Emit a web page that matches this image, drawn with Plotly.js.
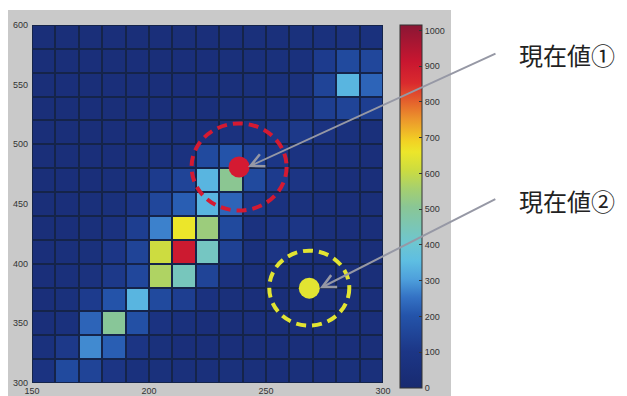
<!DOCTYPE html>
<html>
<head>
<meta charset="utf-8">
<script src="https://cdn.plot.ly/plotly-3.0.1.min.js"></script>
<style>html,body{margin:0;padding:0;background:#fff;}#chart{width:627px;height:396px;}</style>
</head>
<body>
<div id="chart"></div>
<script>
// Cell centres (x: 150..300 step 10, y: 300..600 step 20)
const xCenters = [155,165,175,185,195,205,215,225,235,245,255,265,275,285,295];
const yCenters = [310,330,350,370,390,410,430,450,470,490,510,530,550,570,590];
// Values, rows from bottom (y=300-320) to top (y=580-600)
const zRows = [
  [80,170,150,90,60,55,50,50,55,50,45,50,45,55,50],
  [60,110,280,220,90,55,45,40,45,40,40,45,40,45,40],
  [45,60,230,500,190,80,60,45,40,45,40,45,40,40,45],
  [45,55,120,200,340,170,130,70,50,45,40,45,45,40,45],
  [45,50,65,110,160,570,440,150,70,50,45,45,40,45,40],
  [45,50,55,100,150,610,900,430,140,60,90,60,45,45,40],
  [40,45,50,70,130,270,660,540,170,70,90,100,50,45,45],
  [40,45,50,55,90,160,220,340,230,110,70,65,50,45,40],
  [40,45,45,50,60,120,150,340,510,170,120,90,55,45,45],
  [40,40,45,45,50,60,70,170,200,140,100,80,60,50,45],
  [40,40,40,45,45,50,55,60,70,80,100,110,80,60,50],
  [40,40,45,40,45,45,50,50,55,60,60,70,130,150,130],
  [40,45,40,45,40,45,45,50,50,55,55,65,150,340,230],
  [40,40,45,40,45,40,45,45,50,50,55,60,120,170,160],
  [40,40,40,45,40,45,40,45,45,50,50,55,60,65,60]
];
const xTicks = [150,200,250,300];
const yTicks = [300,350,400,450,500,550,600];
const cTicks = [0,100,200,300,400,500,600,700,800,900,1000];
// Current values (現在値)
const pointNames = ['現在値①','現在値②'];
const pointX = [238.5, 268.5];
const pointY = [481, 379.5];
const circleRx = [20.3, 17.1];
const circleRy = [36.5, 31.4];
const pointColors = ['rgb(212,26,50)','rgb(226,228,50)'];

const colorscale = [
  [0.00,'rgb(24,42,112)'],
  [0.10,'rgb(28,54,134)'],
  [0.20,'rgb(36,84,170)'],
  [0.25,'rgb(52,114,196)'],
  [0.30,'rgb(78,160,220)'],
  [0.35,'rgb(94,190,226)'],
  [0.40,'rgb(110,198,208)'],
  [0.50,'rgb(138,198,148)'],
  [0.55,'rgb(166,208,110)'],
  [0.60,'rgb(204,220,64)'],
  [0.65,'rgb(236,230,42)'],
  [0.68,'rgb(242,210,36)'],
  [0.74,'rgb(236,150,44)'],
  [0.79,'rgb(228,96,44)'],
  [0.84,'rgb(218,42,46)'],
  [0.90,'rgb(200,22,48)'],
  [1.00,'rgb(138,22,52)']
];

// Layout geometry (pixels)
const W = 627, H = 396;
const M = {l:32, r:244, t:25, b:13, pad:0};
const pw = W - M.l - M.r, ph = H - M.t - M.b;
const px2paperX = p => (p - M.l) / pw;
const px2paperY = p => (H - M.b - p) / ph;

const heat = {
  type:'heatmap', x:xCenters, y:yCenters, z:zRows,
  zmin:0, zmax:1015, colorscale:colorscale, xgap:2, ygap:2,
  hoverinfo:'skip',
  colorbar:{
    x:px2paperX(400), xanchor:'left', xref:'paper',
    y:px2paperY(206.5), yanchor:'middle', yref:'paper',
    thickness:22, thicknessmode:'pixels',
    len:363, lenmode:'pixels',
    outlinewidth:1, outlinecolor:'#333',
    tickvals:cTicks, ticktext:cTicks.map(String),
    ticks:'inside', ticklen:3, tickcolor:'#333',
    tickfont:{family:'Liberation Sans Narrow, Liberation Sans, Arial', size:9, color:'#333'},
    xpad:0, ypad:0, borderwidth:0
  }
};

const dots = {
  type:'scatter', mode:'markers', x:pointX, y:pointY,
  marker:{size:21, color:pointColors, line:{width:0}},
  hoverinfo:'skip', showlegend:false
};

const shapes = [
  {type:'rect', xref:'paper', yref:'paper', layer:'below',
   x0:px2paperX(8), x1:px2paperX(451), y0:px2paperY(396), y1:px2paperY(10),
   fillcolor:'#c9c9c9', line:{width:0}},
  {type:'rect', xref:'paper', yref:'paper', layer:'below',
   x0:0, x1:1, y0:0, y1:1, fillcolor:'#15244a', line:{width:0}}
];
for (let i = 0; i < pointX.length; i++) {
  shapes.push({type:'circle', xref:'x', yref:'y',
    x0:pointX[i]-circleRx[i], x1:pointX[i]+circleRx[i],
    y0:pointY[i]-circleRy[i], y1:pointY[i]+circleRy[i],
    line:{color:pointColors[i], width:4, dash:'10px,6px'}});
}

const arrowTipX = [242.3, 273.0];
const arrowTipY = [481, 379.3];
const arrowAx = [249, 177];
const arrowAy = [-114, -90];
const labelYpx = [55, 200];

const annotations = [];
for (let i = 0; i < pointNames.length; i++) {
  annotations.push({x:arrowTipX[i], y:arrowTipY[i], xref:'x', yref:'y',
    text:'', showarrow:true, ax:arrowAx[i], ay:arrowAy[i],
    arrowcolor:'rgb(150,152,165)', arrowwidth:2, arrowhead:5, arrowsize:1.3, standoff:0});
  annotations.push({xref:'paper', yref:'paper', x:px2paperX(517), y:px2paperY(labelYpx[i]),
    xanchor:'left', yanchor:'middle', showarrow:false, text:pointNames[i],
    font:{family:'Noto Sans CJK JP', size:24, color:'#222'}});
}

const axisFont = {family:'Liberation Sans Narrow, Liberation Sans, Arial', size:9, color:'#333'};
const layout = {
  width:W, height:H, margin:M,
  paper_bgcolor:'#ffffff', plot_bgcolor:'#15244a',
  showlegend:false,
  xaxis:{range:[150,300], tickvals:xTicks, ticktext:xTicks.map(String), showgrid:false, zeroline:false,
    ticks:'', tickfont:axisFont, automargin:false, fixedrange:true, ticklabelstandoff:1},
  yaxis:{range:[300,600], tickvals:yTicks, ticktext:yTicks.map(String), showgrid:false, zeroline:false,
    ticks:'', tickfont:axisFont, automargin:false, fixedrange:true, ticklabelstandoff:3},
  shapes:shapes, annotations:annotations
};

Plotly.newPlot('chart', [heat, dots], layout, {displayModeBar:false, staticPlot:true});
</script>
</body>
</html>
